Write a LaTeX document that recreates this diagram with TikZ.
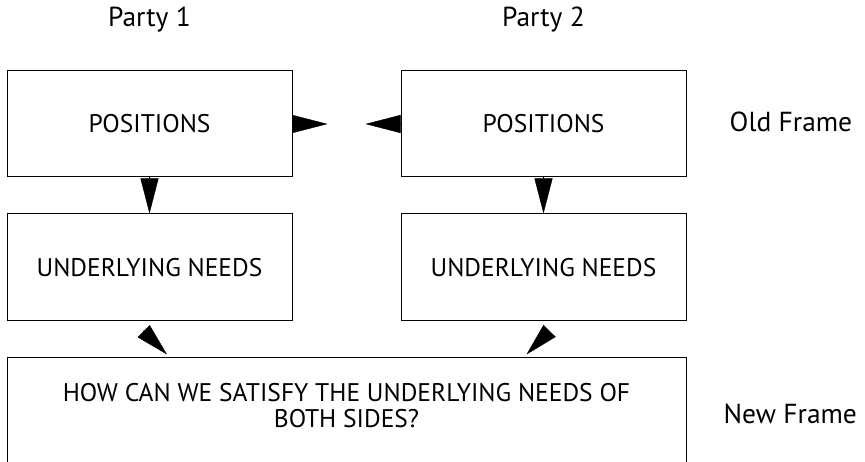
\documentclass[tikz,border=0pt]{standalone}
\usepackage{fontspec}
\setmainfont{PT Sans}
\usepackage{tikz}
\usetikzlibrary{arrows.meta,positioning,calc}

\begin{document}
\begin{tikzpicture}[
 box/.style={draw, line width=1pt, rectangle, align=center, minimum width=285pt, minimum height=106pt, inner sep=0pt},
 wide/.style={draw, line width=1pt, rectangle, align=center, minimum width=679pt, minimum height=104pt, inner sep=0pt},
 wedge/.style={line width=0.4pt, -{Triangle[length=35pt,width=18pt]}},
 slim/.style={line width=0.4pt, -{Triangle[length=33pt,width=17pt]}},
 lbl/.style={inner sep=0pt, font=\fontsize{27.5}{28}\selectfont},
 node distance=36pt and 108pt,
 font=\fontsize{25.5}{26}\selectfont
]
\clip (0,0) rectangle (865pt,-462pt);

\node[box] (pl) at (149.5pt,-124pt) {POSITIONS};
\node[box, right=of pl] (pr) {POSITIONS};
\node[box, below=of pl, minimum height=107pt] (nl) {UNDERLYING NEEDS};
\node[box, below=of pr, minimum height=107pt] (nr) {UNDERLYING NEEDS};
\node[wide, anchor=north west] (how) at ($(nl.south west)+(0,-36pt)$)
 {HOW CAN WE SATISFY THE UNDERLYING NEEDS OF\\BOTH SIDES?\\[-16pt]};

% headings and frame labels
\node[lbl, anchor=base] (p1) at ($(pl.north)+(0,44pt)$) {Party 1};
\node[lbl, anchor=base] (p2) at ($(pr.north)+(0,44pt)$) {Party 2};
\node[lbl, anchor=base west] (oldf) at ($(pr.east)+(43pt,-8pt)$) {Old Frame};
\node[lbl, anchor=base west] (newf) at ($(how.north east)+(37pt,-66pt)$) {New Frame};

% arrow heads
\draw[wedge] (pl.east) -- ++(35pt,0);
\draw[wedge] (pr.west) -- ++(-35pt,0);
\draw[wedge] (pl) -- (nl);
\draw[wedge] (pr) -- (nr);
\draw[slim] ($(nl.south)+(-6.5pt,-9pt)$) -- ($(nl.south)+(17.5pt,-33pt)$);
\draw[slim] ($(nr.south)+(6pt,-9.5pt)$) -- ($(nr.south)+(-17pt,-33pt)$);
\end{tikzpicture}
\end{document}
